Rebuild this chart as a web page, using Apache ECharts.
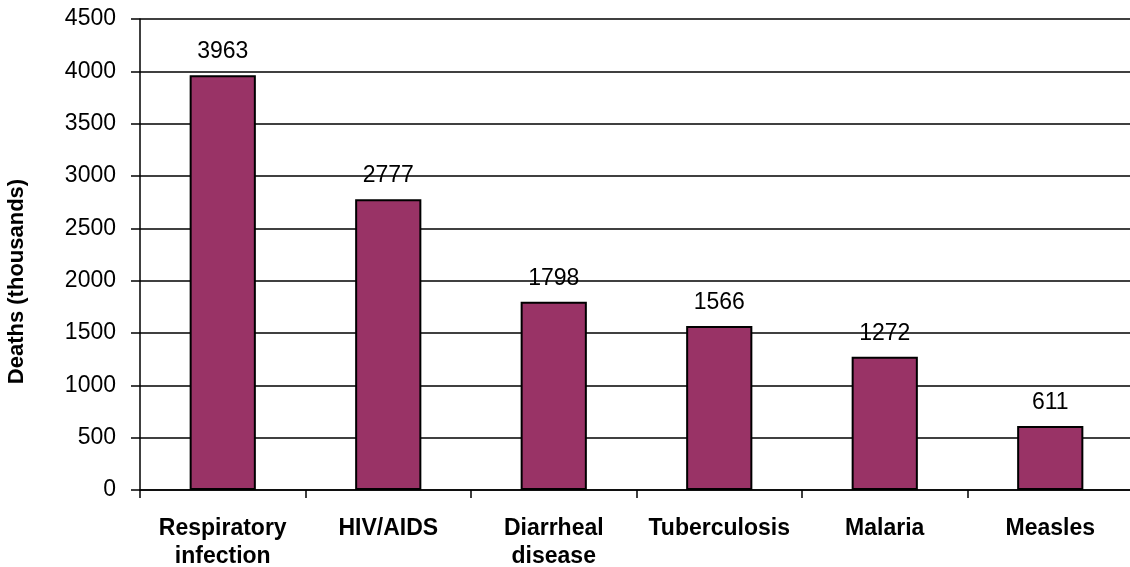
<!DOCTYPE html>
<html lang="en">
<head>
    <meta charset="UTF-8">
    <title>Deaths by cause</title>
    <script src="https://cdn.jsdelivr.net/npm/echarts@6/dist/echarts.min.js"></script>
    <style>
        html, body { margin: 0; padding: 0; background: #fff; }
        #charts { width: 1130px; height: 567px; }
    </style>
</head>
<body>
    <div id="charts"></div>
    <script type="text/javascript">
        var causes = ['Respiratory\ninfection', 'HIV/AIDS', 'Diarrheal\ndisease', 'Tuberculosis', 'Malaria', 'Measles'];
        var deaths = [3963, 2777, 1798, 1566, 1272, 611];
        var yTicks = [0, 500, 1000, 1500, 2000, 2500, 3000, 3500, 4000, 4500];

        var myChart = echarts.init(document.getElementById('charts'));
        var font = '"Liberation Sans", Arial, sans-serif';
        var option = {
            animation: false,
            grid: { left: 140, right: -3, top: 19, bottom: 77, outerBoundsMode: 'none' },
            xAxis: {
                type: 'category',
                data: causes,
                axisLine: { lineStyle: { color: '#000', width: 1.5 } },
                axisTick: { show: true, length: 8, lineStyle: { color: '#000', width: 1.5 } },
                axisLabel: {
                    color: '#000', fontFamily: font, fontSize: 23, fontWeight: 'bold',
                    lineHeight: 28, margin: 25, interval: 0
                }
            },
            yAxis: {
                type: 'value',
                min: yTicks[0],
                max: yTicks[yTicks.length - 1],
                interval: 500,
                name: 'Deaths (thousands)',
                nameLocation: 'middle',
                nameGap: 112,
                nameTextStyle: {
                    color: '#000', fontFamily: font, fontSize: 22, fontWeight: 'bold',
                    padding: [0, 54, 0, 0]
                },
                axisLine: { show: true, lineStyle: { color: '#000', width: 1.5 } },
                axisTick: { show: true, length: 9, lineStyle: { color: '#000', width: 1.5 } },
                axisLabel: {
                    color: '#000', fontFamily: font, fontSize: 23, margin: 24,
                    formatter: function (v) { return String(v); }
                },
                splitLine: { lineStyle: { color: '#000', width: 1.5 } }
            },
            series: [{
                type: 'bar',
                data: deaths,
                barWidth: '40%',
                itemStyle: { color: '#993366', borderColor: '#000', borderWidth: 2 },
                label: {
                    show: true, position: 'top', distance: 12,
                    color: '#000', fontFamily: font, fontSize: 23
                }
            }]
        };
        myChart.setOption(option);
    </script>
</body>
</html>
